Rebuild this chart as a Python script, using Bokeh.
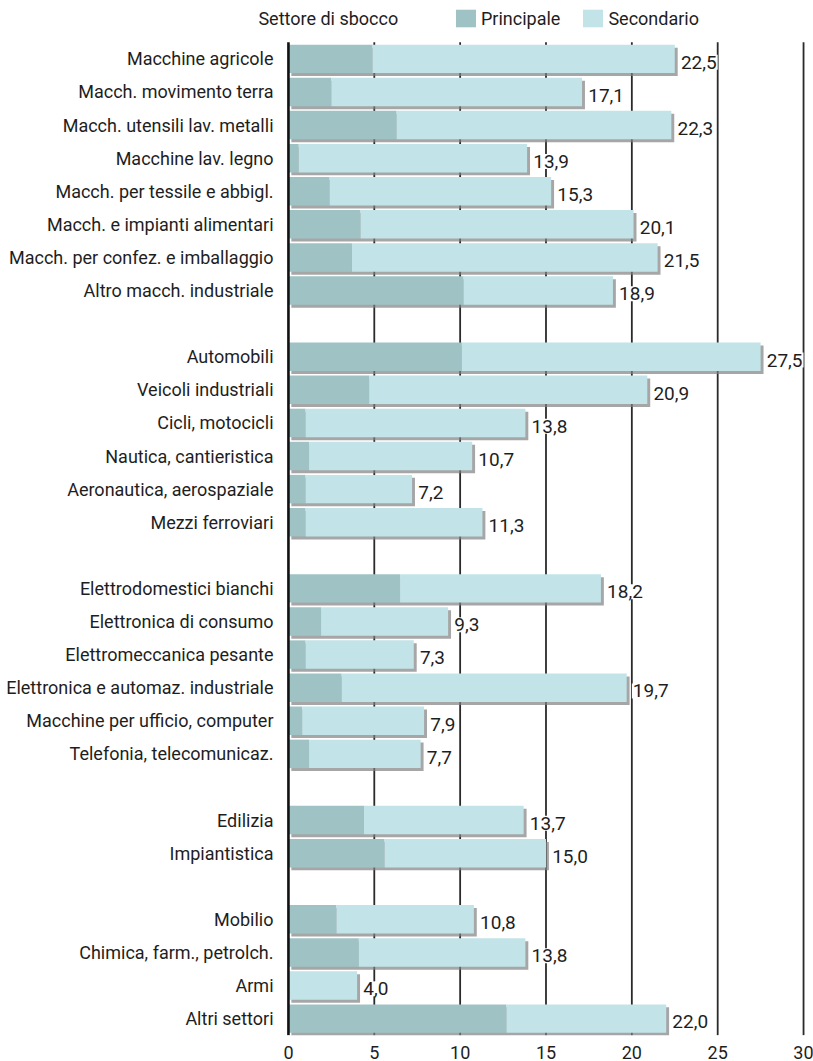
from bokeh.plotting import figure
from bokeh.models import Range1d, FixedTicker, ColumnDataSource, Legend, LegendItem
from bokeh.core.properties import value
from bokeh.embed import file_html
from bokeh.resources import INLINE

# ---------------- data ----------------
categorie = [
    "Macchine agricole", "Macch. movimento terra", "Macch. utensili lav. metalli",
    "Macchine lav. legno", "Macch. per tessile e abbigl.", "Macch. e impianti alimentari",
    "Macch. per confez. e imballaggio", "Altro macch. industriale",
    "Automobili", "Veicoli industriali", "Cicli, motocicli", "Nautica, cantieristica",
    "Aeronautica, aerospaziale", "Mezzi ferroviari",
    "Elettrodomestici bianchi", "Elettronica di consumo", "Elettromeccanica pesante",
    "Elettronica e automaz. industriale", "Macchine per ufficio, computer",
    "Telefonia, telecomunicaz.",
    "Edilizia", "Impiantistica",
    "Mobilio", "Chimica, farm., petrolch.", "Armi", "Altri settori",
]
gruppo = [0] * 8 + [1] * 6 + [2] * 6 + [3] * 2 + [4] * 4
principale = [4.9, 2.5, 6.3, 0.6, 2.4, 4.2, 3.7, 10.2,
              10.1, 4.7, 1.0, 1.2, 1.0, 1.0,
              6.5, 1.9, 1.0, 3.1, 0.8, 1.2,
              4.4, 5.6,
              2.8, 4.1, 0.0, 12.7]
totale = [22.5, 17.1, 22.3, 13.9, 15.3, 20.1, 21.5, 18.9,
          27.5, 20.9, 13.8, 10.7, 7.2, 11.3,
          18.2, 9.3, 7.3, 19.7, 7.9, 7.7,
          13.7, 15.0,
          10.8, 13.8, 4.0, 22.0]
secondario = [round(t - p_, 1) for t, p_ in zip(totale, principale)]
tick_values = [0, 5, 10, 15, 20, 25, 30]
legenda_titolo = "Settore di sbocco"
serie = ["Principale", "Secondario"]

# ---------------- style ----------------
FONT = "Roboto"
C_PRINC = "#9fc3c5"
C_SEC = "#c2e3e8"
C_SHADOW = "#808080"
C_TEXT = "#1e1e1e"
BAR_H = 0.86

ys = [i + g for i, g in enumerate(gruppo)]
src = ColumnDataSource(dict(
    y=ys,
    y_sh=[y + 0.09 for y in ys],
    princ=principale,
    sec=secondario,
    tot=totale,
    tot_sh=[t + 0.17 for t in totale],
    lab=[f"{t:.1f}".replace(".", ",") for t in totale],
    lab_x=[t + 0.3 for t in totale],
    lab_y=[y + 0.1 for y in ys],
    cat=categorie,
))

p = figure(width=813, height=1061,
           x_range=Range1d(-16.77, 30.58), y_range=Range1d(29.51, -1.764),
           output_backend="svg", toolbar_location=None,
           min_border_left=0, min_border_right=0, min_border_top=0, min_border_bottom=24,
           y_axis_location=None)
p.grid.visible = False
p.outline_line_color = None
p.background_fill_color = "white"

# x axis: labels only
ax = p.xaxis[0]
ax.ticker = FixedTicker(ticks=tick_values)
ax.axis_line_color = None
ax.major_tick_line_color = None
ax.minor_tick_line_color = None
ax.major_label_text_font = FONT
ax.major_label_text_font_size = "18px"
ax.major_label_text_color = C_TEXT
ax.major_label_standoff = 4

y_top = min(ys) - 0.5
y_bot = max(ys) + 0.5

# vertical grid lines (behind bars)
p.segment(x0=tick_values[1:], x1=tick_values[1:], y0=y_top, y1=y_bot,
          line_color="#2a2a2a", line_width=1.8)

# shadows
p.hbar(y="y_sh", left=0.17, right="tot_sh", height=BAR_H, source=src,
       fill_color=C_SHADOW, fill_alpha=0.7, line_color=None)
# bars
r_p = p.hbar(y="y", left=0, right="princ", height=BAR_H, source=src,
             fill_color=C_PRINC, line_color=None)
r_s = p.hbar(y="y", left="princ", right="tot", height=BAR_H, source=src,
             fill_color=C_SEC, line_color=None)

# left axis line
p.segment(x0=[0], x1=[0], y0=[y_top], y1=[y_bot], line_color="#111111", line_width=2.6)

# value labels (white box hides grid lines)
p.text(x="lab_x", y="lab_y", text="lab", source=src, text_font=value(FONT),
       text_font_size="19px", text_color=C_TEXT, text_baseline="middle", text_align="left",
       background_fill_color="white", padding=1)

# category labels
p.text(x=-0.87, y="y", text="cat", source=src, text_font=value(FONT),
       text_font_size="18px", text_color=C_TEXT, text_baseline="middle", text_align="right")

# legend
p.text(x=[-1.75], y=[-1.22], text=[legenda_titolo], text_font=value(FONT),
       text_font_size="18px", text_color=C_TEXT, text_baseline="middle", text_align="left")
legend = Legend(items=[LegendItem(label=serie[0], renderers=[r_p]),
                       LegendItem(label=serie[1], renderers=[r_s])],
                orientation="horizontal", location=(453, 1006),
                background_fill_alpha=0, border_line_color=None,
                label_text_font=FONT, label_text_font_size="18px", label_text_color=C_TEXT,
                glyph_width=25, glyph_height=22, label_standoff=3, spacing=20,
                padding=0, margin=0)
p.add_layout(legend)

open("out.html", "w").write(file_html(p, INLINE))
